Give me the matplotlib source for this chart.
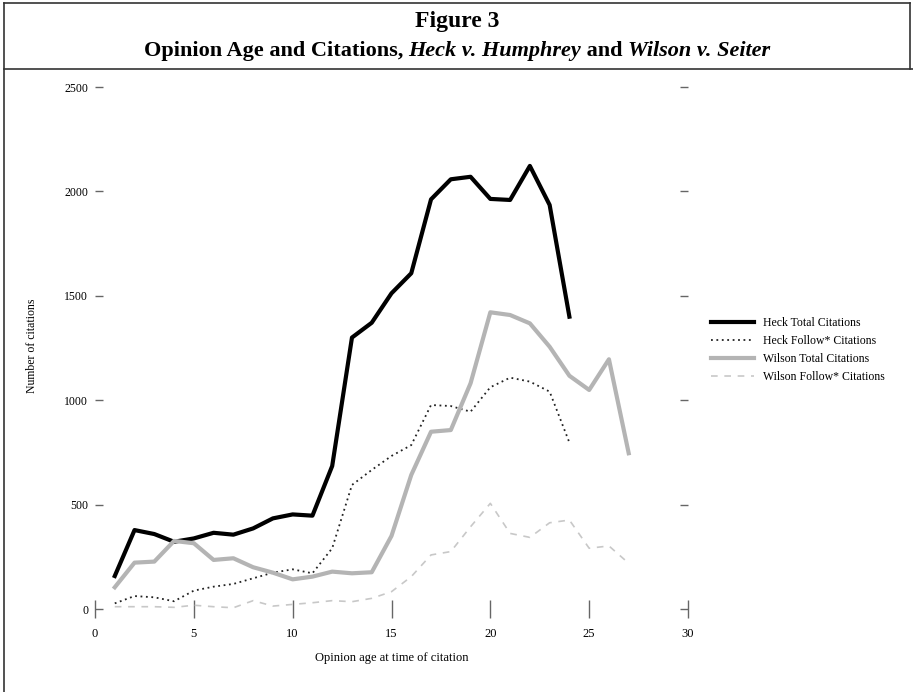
import numpy as np
import matplotlib.pyplot as plt
from matplotlib.lines import Line2D

# opinion age (years) and citation counts
heck_age = list(range(1, 25))
heck_total = [158, 378, 359, 322, 338, 365, 356, 386, 434, 453, 447, 685,
              1300, 1371, 1512, 1608, 1962, 2058, 2070, 1964, 1959, 2122, 1935, 1400]
heck_follow = [27, 62, 56, 37, 88, 107, 120, 147, 174, 190, 171, 291,
               594, 666, 733, 785, 977, 972, 945, 1062, 1108, 1089, 1041, 797]

wilson_age = list(range(1, 28))
wilson_total = [104, 222, 227, 326, 315, 235, 243, 200, 174, 142, 155, 179, 171, 176,
                350, 642, 849, 857, 1081, 1421, 1408, 1368, 1256, 1117, 1049, 1196, 746]
wilson_follow = [11, 11, 11, 8, 18, 11, 6, 40, 14, 22, 30, 40, 35, 51,
                 83, 155, 259, 275, 394, 506, 362, 343, 413, 426, 291, 302, 219]

x_ticks = [0, 5, 10, 15, 20, 25, 30]
y_ticks = [0, 500, 1000, 1500, 2000, 2500]

plt.rcParams['font.family'] = ['Liberation Serif', 'DejaVu Serif']

W, H = 913, 692
fig = plt.figure(figsize=(W / 100, H / 100), dpi=100)
ax = fig.add_axes([95 / W, 1 - 609 / H, 593 / W, 522 / H])

ax.plot(heck_age, heck_total, color='black', lw=3.0, label='Heck Total Citations')
ax.plot(heck_age, heck_follow, color='#222222', lw=1.3, ls=(0, (1, 2)),
        label='Heck Follow* Citations')
ax.plot(wilson_age, wilson_total, color='#b4b4b4', lw=3.0, label='Wilson Total Citations')
ax.plot(wilson_age, wilson_follow, color='#c8c8c8', lw=1.2, ls=(0, (4, 4)),
        label='Wilson Follow* Citations')

ax.set_xlim(0, 30)
ax.set_ylim(0, 2500)
ax.set_xticks(x_ticks)
ax.set_yticks(y_ticks)
for s in ax.spines.values():
    s.set_visible(False)
ax.tick_params(axis='y', direction='in', length=6, width=1, color='#666666',
               right=True, labelsize=8.5, pad=5)
ax.tick_params(axis='x', direction='inout', length=13, width=1, color='#666666',
               labelsize=9, pad=7)
ax.set_xlabel('Opinion age at time of citation', fontsize=9, labelpad=9)
ax.set_ylabel('Number of citations', fontsize=8.5)
ax.yaxis.set_label_coords(38 / W, 0.5, transform=fig.transFigure)

ax.legend(loc='upper left', bbox_to_anchor=(711 / W, 1 - 317 / H),
          bbox_transform=fig.transFigure, frameon=False, fontsize=8.5,
          handlelength=3.6, handletextpad=0.8, labelspacing=0.52,
          borderpad=0, borderaxespad=0)

# frame around the figure title
lc = '#333333'
fig.add_artist(Line2D([4 / W, 4 / W], [0, 1 - 3 / H], color=lc, lw=1.2))
fig.add_artist(Line2D([4 / W, 910 / W], [1 - 3 / H, 1 - 3 / H], color=lc, lw=1.2))
fig.add_artist(Line2D([910 / W, 910 / W], [1 - 3 / H, 1 - 69 / H], color=lc, lw=1.2))
fig.add_artist(Line2D([4 / W, 1], [1 - 69 / H, 1 - 69 / H], color=lc, lw=1.2))

fig.text(457 / W, 1 - 22 / H, 'Figure 3', ha='center', va='center',
         fontsize=17, fontweight='bold')

# second title line, with italic case names
parts = [('Opinion Age and Citations, ', 'normal'), ('Heck v. Humphrey', 'italic'),
         (' and ', 'normal'), ('Wilson v. Seiter', 'italic')]
r = fig.canvas.get_renderer()
texts = [fig.text(0, 1 - 51 / H, s, va='center', fontsize=16, fontweight='bold', fontstyle=st)
         for s, st in parts]
widths = [t.get_window_extent(r).width / W for t in texts]
x0 = 457 / W - sum(widths) / 2
for t, w in zip(texts, widths):
    t.set_x(x0)
    x0 += w

fig.savefig('out.png', dpi=100)
